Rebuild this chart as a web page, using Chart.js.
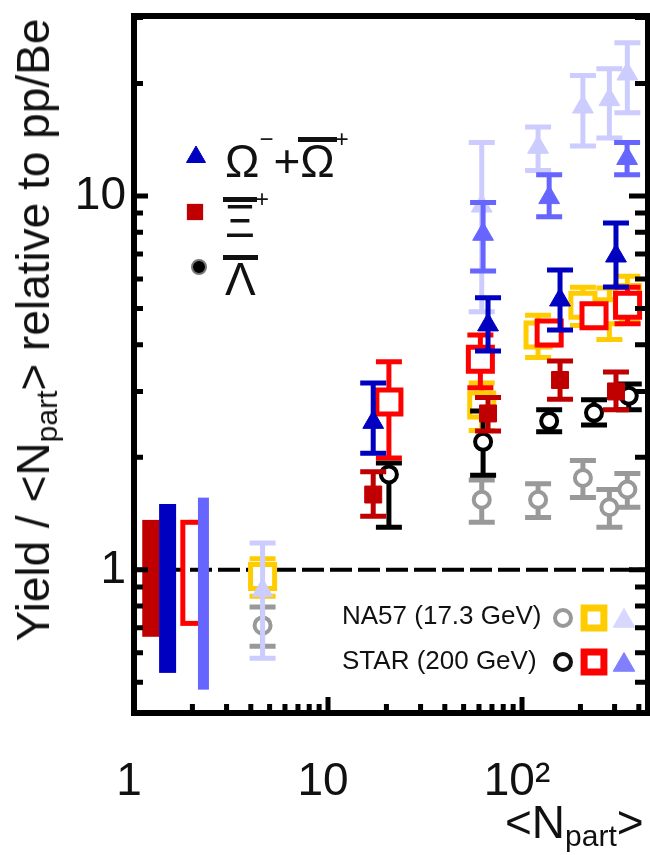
<!DOCTYPE html>
<html>
<head>
<meta charset="utf-8">
<script src="https://cdn.jsdelivr.net/npm/chart.js@4.4.1/dist/chart.umd.min.js"></script>
<style>
  html, body { margin: 0; padding: 0; background: #fff; }
  #wrap { position: relative; width: 650px; height: 855px; overflow: hidden; }
  #chart { position: absolute; left: 0; top: 0; }
  .t { position: absolute; white-space: nowrap; line-height: 1; font-family: "Liberation Sans", Arial, sans-serif; color: #111; }
  .ytitle { font-size: 46px; left: 33px; top: 330px; transform: translate(-50%, -50%) rotate(-90deg); }
  .xtitle { font-size: 46px; left: 505px; top: 799px; }
  .sub { font-size: 30px; position: relative; top: 8px; }
  .leg { font-size: 46px; }
  .sup { font-size: 24px; position: relative; top: -30px; }
  .bar { position: relative; }
  .bar::before { content: ""; position: absolute; left: -2px; right: -2px; top: 2px; height: 5px; background: #111; }
  .small { font-size: 26px; }
</style>
</head>
<body>
<div id="wrap">
  <canvas id="chart" width="650" height="855"></canvas>
  <div class="t ytitle">Yield / &lt;N<span class="sub">part</span>&gt; relative to pp/Be</div>
  <div class="t xtitle">&lt;N<span class="sub">part</span>&gt;</div>
  <div class="t leg" style="left:225px;top:138px">Ω<span class="sup">−</span>+<span class="bar">Ω</span><span class="sup">+</span></div>
  <div class="t leg" style="left:225px;top:198px"><span class="bar">Ξ</span><span class="sup">+</span></div>
  <div class="t leg" style="left:225px;top:256px"><span class="bar">Λ</span></div>
  <div class="t small" style="left:342px;top:602px">NA57 (17.3 GeV)</div>
  <div class="t small" style="left:342px;top:647px">STAR (200 GeV)</div>
</div>
<script>
// =====================
// DATA
// =====================

// NA57 (17.3 GeV): p-Pb point + Pb-Pb centralities
const na57Npart = [4.6, 62, 121, 206, 282, 349];
const na57Lambda = [0.71, 1.54, 1.54, 1.76, 1.47, 1.64];
const na57LambdaErr = [0.085, 0.2, 0.16, 0.2, 0.17, 0.17];
const na57Xi = [0.96, 2.76, 4.25, 5.1, 4.9, 5.35];
const na57XiErr = [0.11, 0.4, 0.55, 0.6, 0.77, 0.75];
const na57Omega = [0.88, 9.4, 13.5, 17.3, 18.1, 21.2];
const na57OmegaErr = [0.3, 4.5, 1.8, 3.7, 3.8, 4.5];

// STAR (200 GeV)
const starXiNpart = [20.6, 61, 138, 235, 350];
const starXi = [2.81, 3.66, 4.3, 4.78, 5.1];
const starXiErrUp = [0.79, 0.59, 0.3, 0.3, 0.6];
const starXiErrDown = [0.82, 0.59, 0.3, 0.3, 0.55];

const starLambdaNpart = [20.6, 63, 138, 235, 355];
const starLambda = [1.8, 2.2, 2.5, 2.63, 2.92];
const starLambdaErrUp = [0.13, 0.46, 0.18, 0.22, 0.22];
const starLambdaErrDown = [0.5, 0.41, 0.16, 0.19, 0.24];

const starOmegaNpart = [63, 138, 348];
const starOmega = [7.9, 9.9, 12.6];
const starOmegaErrUp = [1.7, 1.5, 1.3];
const starOmegaErrDown = [1.6, 1.1, 1.2];

// Omega- + anti-Omega+ and anti-Xi+
const antiNpart = [17.1, 66.8, 157, 305];
const omegaSum = [2.48, 4.52, 5.27, 6.91];
const omegaSumErrUp = [0.68, 0.82, 1.07, 1.56];
const omegaSumErrDown = [0.43, 0.67, 0.89, 1.2];
const antiXi = [1.59, 2.62, 3.22, 3.0];
const antiXiErrUp = [0.24, 0.27, 0.4, 0.38];
const antiXiErrDown = [0.2, 0.27, 0.36, 0.32];

// normalisation uncertainty boxes near Npart = 1..2
const normNpart = [1.22, 1.49, 2.01, 2.28];
const normLow = [0.662, 0.53, 0.719, 0.478];
const normHigh = [1.36, 1.50, 1.34, 1.56];

// axes
const xRange = [1, 446];
const yRange = [0.414, 30.3];
const xTickValues = [1, 10, 100];
const xTickText = ["1", "10", "10²"];
const yTickValues = [1, 10];
const yTickText = ["1", "10"];

// =====================
// STYLES
// =====================
const C = {
  omegaSum: "#0000c0", starXi: "#ff0000", antiXi: "#c00000", starLambda: "#000000",
  starOmega: "#6666ff", na57Xi: "#ffcc00", na57Lambda: "#999999", na57Omega: "#ccccff"
};
const normBoxStyle = [
  { color: "#c00000", fill: true, w: 17 },
  { color: "#0000c0", fill: true, w: 17 },
  { color: "#ff0000", fill: false, w: 20 },
  { color: "#6666ff", fill: true, w: 11 }
];
const FONT = "'Liberation Sans', Arial, sans-serif";

function series(label, npart, vals, up, down, color, shape, radius, open) {
  return {
    label,
    data: npart.map((n, i) => ({ x: n, y: vals[i] })),
    errUp: up,
    errDown: down,
    errColor: color,
    showLine: false,
    clip: false,
    pointStyle: shape,
    pointRadius: radius,
    pointHoverRadius: radius,
    pointBorderWidth: open ? (shape === "circle" ? 4 : 5) : 1,
    pointBorderColor: color,
    pointBackgroundColor: open ? "#ffffff" : color
  };
}

// first dataset is drawn on top
const datasets = [
  series("Ω⁻+Ω̄⁺", antiNpart, omegaSum, omegaSumErrUp, omegaSumErrDown, C.omegaSum, "triangle", 12, false),
  series("STAR Ξ", starXiNpart, starXi, starXiErrUp, starXiErrDown, C.starXi, "rect", 17, true),
  series("Ξ̄⁺", antiNpart, antiXi, antiXiErrUp, antiXiErrDown, C.antiXi, "rect", 12, false),
  series("STAR Λ", starLambdaNpart, starLambda, starLambdaErrUp, starLambdaErrDown, C.starLambda, "circle", 8, true),
  series("STAR Ω", starOmegaNpart, starOmega, starOmegaErrUp, starOmegaErrDown, C.starOmega, "triangle", 12, false),
  series("NA57 Ω", na57Npart, na57Omega, na57OmegaErr, na57OmegaErr, C.na57Omega, "triangle", 12, false),
  series("NA57 Ξ", na57Npart, na57Xi, na57XiErr, na57XiErr, C.na57Xi, "rect", 17, true),
  series("NA57 Λ", na57Npart, na57Lambda, na57LambdaErr, na57LambdaErr, C.na57Lambda, "circle", 8, true)
];

// =====================
// HELPERS
// =====================
function logTicks(min, max) {
  const out = [];
  for (let e = Math.floor(Math.log10(min)); e <= Math.ceil(Math.log10(max)); e++) {
    for (let m = 1; m <= 9; m++) {
      const v = m * Math.pow(10, e);
      if (v >= min * 0.9999 && v <= max * 1.0001) out.push({ value: v });
    }
  }
  return out;
}
function isDecade(v) {
  const l = Math.log10(v);
  return Math.abs(l - Math.round(l)) < 1e-6;
}
function labelFor(values, texts, v) {
  const i = values.findIndex(t => Math.abs(t - v) < 1e-6);
  return i >= 0 ? texts[i] : "";
}
function noPadding(s) {
  s.paddingLeft = 0; s.paddingRight = 0; s.paddingTop = 0; s.paddingBottom = 0;
}
function marker(ctx, shape, x, y, r, fill, stroke, bw) {
  ctx.beginPath();
  if (shape === "circle") {
    ctx.arc(x, y, r, 0, Math.PI * 2);
  } else if (shape === "rect") {
    const s = r / Math.SQRT2;
    ctx.rect(x - s, y - s, 2 * s, 2 * s);
  } else {
    ctx.moveTo(x, y - r);
    ctx.lineTo(x + r * Math.sin(2 * Math.PI / 3), y + r / 2);
    ctx.lineTo(x - r * Math.sin(2 * Math.PI / 3), y + r / 2);
    ctx.closePath();
  }
  ctx.fillStyle = fill;
  ctx.fill();
  if (bw > 0) { ctx.lineWidth = bw; ctx.strokeStyle = stroke; ctx.stroke(); }
}

// =====================
// PLUGIN: dashed line, boxes, error bars, legend glyphs, frame, inward ticks
// =====================
const extras = {
  id: "extras",
  beforeDatasetsDraw(chart) {
    const { ctx, chartArea: a, scales: { x, y } } = chart;
    ctx.save();
    ctx.beginPath();
    ctx.rect(a.left, a.top, a.right - a.left, a.bottom - a.top);
    ctx.clip();
    ctx.strokeStyle = "#000";
    ctx.lineWidth = 4;
    ctx.setLineDash([22, 6]);
    ctx.beginPath();
    ctx.moveTo(a.left, y.getPixelForValue(1));
    ctx.lineTo(a.right, y.getPixelForValue(1));
    ctx.stroke();
    ctx.setLineDash([]);
    normNpart.forEach((n, i) => {
      const st = normBoxStyle[i];
      const cx = x.getPixelForValue(n);
      const top = y.getPixelForValue(normHigh[i]);
      const bot = y.getPixelForValue(normLow[i]);
      if (st.fill) {
        ctx.fillStyle = st.color;
        ctx.fillRect(cx - st.w / 2, top, st.w, bot - top);
      } else {
        ctx.strokeStyle = st.color;
        ctx.lineWidth = 5;
        ctx.strokeRect(cx - st.w / 2, top, st.w, bot - top);
      }
    });
    ctx.restore();
  },
  beforeDatasetDraw(chart, args) {
    const ds = chart.data.datasets[args.index];
    const { ctx, chartArea: a, scales: { x, y } } = chart;
    ctx.save();
    ctx.beginPath();
    ctx.rect(a.left, a.top, a.right - a.left, a.bottom - a.top);
    ctx.clip();
    ctx.strokeStyle = ds.errColor;
    ctx.lineWidth = 5;
    ds.data.forEach((p, i) => {
      const px = x.getPixelForValue(p.x);
      const hi = y.getPixelForValue(p.y + ds.errUp[i]);
      const lo = y.getPixelForValue(p.y - ds.errDown[i]);
      ctx.beginPath();
      ctx.moveTo(px, hi); ctx.lineTo(px, lo);
      ctx.moveTo(px - 13, hi); ctx.lineTo(px + 13, hi);
      ctx.moveTo(px - 13, lo); ctx.lineTo(px + 13, lo);
      ctx.stroke();
    });
    ctx.restore();
  },
  afterDatasetsDraw(chart) {
    const ctx = chart.ctx;
    ctx.save();
    // top-left legend
    marker(ctx, "triangle", 196, 157, 11, C.omegaSum, C.omegaSum, 1);
    marker(ctx, "rect", 195, 212, 11.5, C.antiXi, C.antiXi, 0);
    marker(ctx, "circle", 199, 267, 7, "#000", "#777", 2);
    // bottom-right legend
    marker(ctx, "circle", 563, 618, 8, "#fff", C.na57Lambda, 4);
    marker(ctx, "rect", 594, 618, 14, "#fff", C.na57Xi, 7);
    marker(ctx, "triangle", 624, 621, 12.5, "#d8d8ff", "#d8d8ff", 1);
    marker(ctx, "circle", 563, 662, 8, "#fff", "#111", 4);
    marker(ctx, "rect", 594, 662, 14, "#fff", C.starXi, 7);
    marker(ctx, "triangle", 624, 665, 12.5, "#8080ff", "#8080ff", 1);
    ctx.restore();
  },
  afterDraw(chart) {
    const { ctx, chartArea: a, scales: { x, y } } = chart;
    ctx.save();
    ctx.strokeStyle = "#000";
    ctx.lineWidth = 5;
    ctx.beginPath();
    x.ticks.forEach(t => {
      const p = x.getPixelForValue(t.value);
      if (p <= a.left + 1 || p >= a.right - 1) return;
      const L = isDecade(t.value) ? 16 : 9;
      ctx.moveTo(p, a.bottom); ctx.lineTo(p, a.bottom - L);
    });
    y.ticks.forEach(t => {
      const p = y.getPixelForValue(t.value);
      if (p <= a.top + 1 || p >= a.bottom - 1) return;
      const major = isDecade(t.value);
      ctx.moveTo(a.left, p); ctx.lineTo(a.left + (major ? 14 : 9), p);
      ctx.moveTo(a.right, p); ctx.lineTo(a.right - (major ? 19 : 13), p);
    });
    ctx.stroke();
    ctx.lineWidth = 6;
    ctx.strokeRect(a.left, a.top, a.right - a.left, a.bottom - a.top);
    ctx.restore();
  }
};

// =====================
// CHART
// =====================
new Chart(document.getElementById("chart"), {
  type: "scatter",
  data: { datasets },
  options: {
    responsive: false,
    animation: false,
    events: [],
    layout: { autoPadding: false, padding: { top: 16, right: 2, left: 0, bottom: 0 } },
    plugins: { legend: { display: false }, tooltip: { enabled: false } },
    scales: {
      x: {
        type: "logarithmic",
        position: "bottom",
        min: xRange[0],
        max: xRange[1],
        grid: { display: false, drawTicks: false },
        border: { display: false },
        afterBuildTicks: s => { s.ticks = logTicks(s.min, s.max); },
        afterFit: s => { s.height = 142; noPadding(s); },
        ticks: {
          autoSkip: false,
          maxRotation: 0,
          padding: 42,
          labelOffset: -5,
          color: "#111",
          font: { family: FONT, size: 46 },
          callback: v => labelFor(xTickValues, xTickText, v)
        }
      },
      y: {
        type: "logarithmic",
        position: "left",
        min: yRange[0],
        max: yRange[1],
        grid: { display: false, drawTicks: false },
        border: { display: false },
        afterBuildTicks: s => { s.ticks = logTicks(s.min, s.max); },
        afterFit: s => { s.width = 134; noPadding(s); },
        ticks: {
          autoSkip: false,
          padding: 8,
          color: "#111",
          font: { family: FONT, size: 46 },
          callback: v => labelFor(yTickValues, yTickText, v)
        }
      }
    }
  },
  plugins: [extras]
});
</script>
</body>
</html>
